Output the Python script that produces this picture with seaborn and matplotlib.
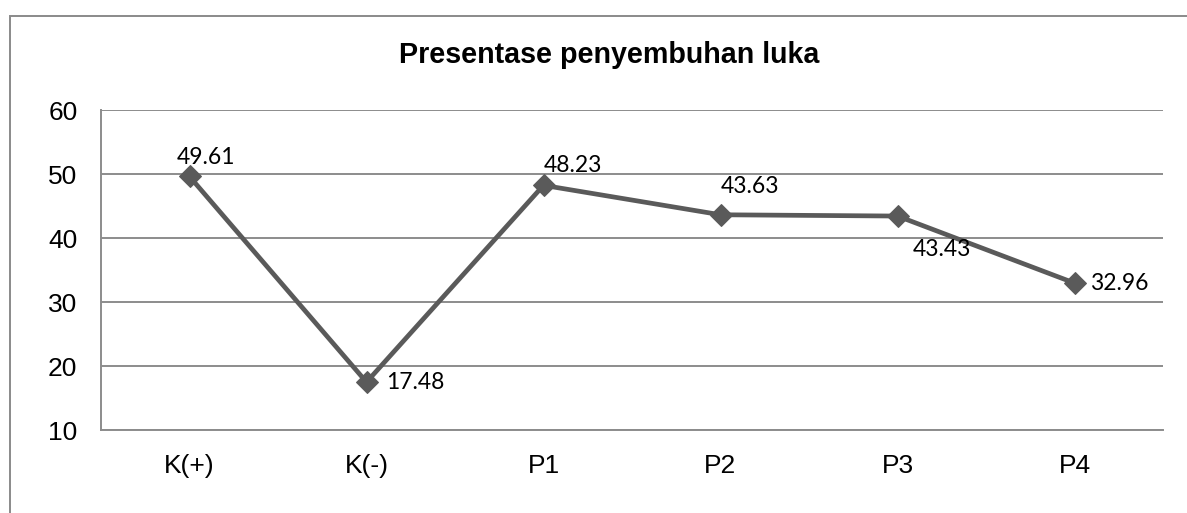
import matplotlib
matplotlib.use("Agg")
import matplotlib.pyplot as plt
import pandas as pd
import seaborn as sns
from matplotlib.patches import Rectangle

# data
groups = ["K(+)", "K(-)", "P1", "P2", "P3", "P4"]
healing_pct = [49.61, 17.48, 48.23, 43.63, 43.43, 32.96]
y_ticks = [10, 20, 30, 40, 50, 60]

# label placement (offset in points from each marker)
label_offsets = [(-9, 14), (14, 0), (0, 14), (0, 20), (11, -24), (11, 0)]

df = pd.DataFrame({"group": groups, "pct": healing_pct})

sns.set_style("white")
plt.rcParams["font.family"] = ["Liberation Sans", "DejaVu Sans"]
plt.rcParams["text.color"] = "black"

W, H = 1187, 513
fig = plt.figure(figsize=(W / 100, H / 100), dpi=100)
ax = fig.add_axes([101 / W, 1 - 430 / H, (1163 - 101) / W, 320 / H])

line_col = "#5a5a5a"
grid_col = "#8c8c8c"

sns.lineplot(data=df, x="group", y="pct", ax=ax, sort=False, color=line_col,
             linewidth=3.4, marker="D", markersize=11, markeredgecolor=line_col,
             markerfacecolor=line_col)

for i, v in enumerate(healing_pct):
    dx, dy = label_offsets[i]
    ax.annotate(f"{v:.2f}", (i, v), xytext=(dx, dy), textcoords="offset points",
                ha="left", va="center", fontsize=16.5, family=["Lato", "DejaVu Sans"],
                color="black")

ax.set_xlim(-0.5, len(groups) - 0.5)
ax.set_ylim(10, 60)
ax.set_yticks(y_ticks)
ax.yaxis.grid(True, color=grid_col, linewidth=1.4)
ax.set_axisbelow(True)
ax.set_xlabel("")
ax.set_ylabel("")
ax.tick_params(axis="both", length=0, labelsize=19, colors="black")
ax.tick_params(axis="y", pad=17)
ax.tick_params(axis="x", pad=17)

for side in ["top", "right"]:
    ax.spines[side].set_visible(False)
for side in ["left", "bottom"]:
    ax.spines[side].set_color(grid_col)
    ax.spines[side].set_linewidth(1.4)

fig.text(609 / W, 1 - 55 / H, "Presentase penyembuhan luka", ha="center",
         va="center", fontsize=20.6, fontweight="bold", color="black")

# outer chart border (only left and top edges fall inside the picture)
fig.add_artist(Rectangle((10 / W, -0.2), 1.5, 1.2 - 16 / H, transform=fig.transFigure,
                         fill=False, edgecolor="#8a8a8a", linewidth=1.4))

fig.savefig("out.png", dpi=100)
